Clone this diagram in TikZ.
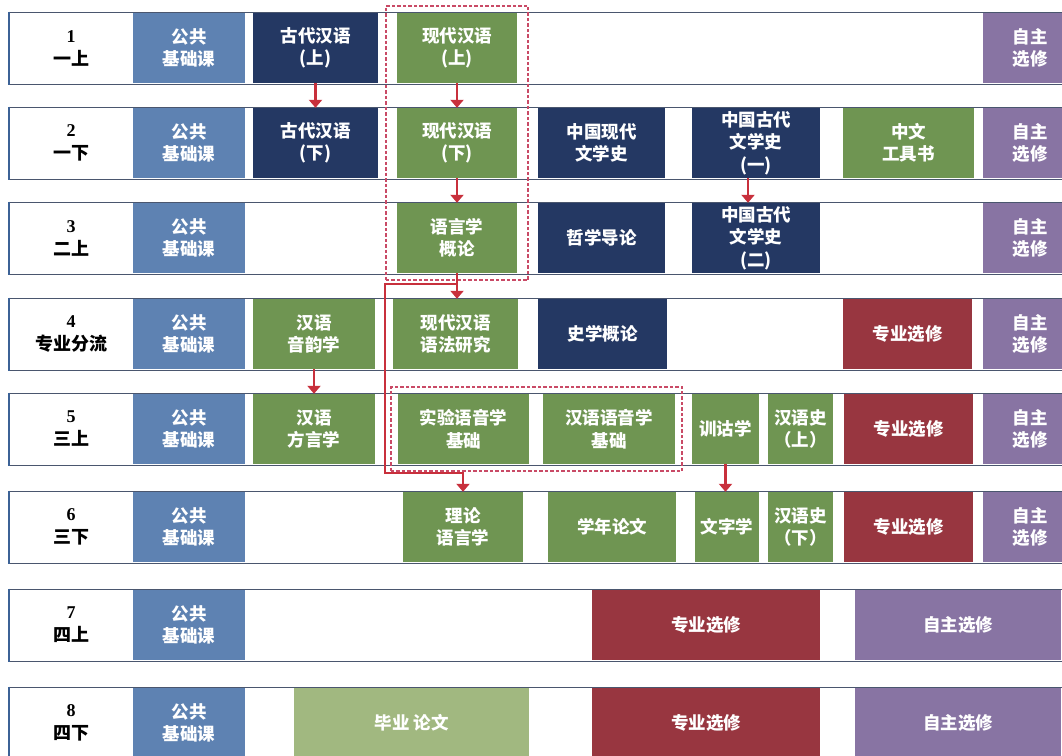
\documentclass[tikz,border=0pt]{standalone}
\usepackage{fontspec}
\setmainfont{Liberation Serif}
\newfontfamily\cjk{Noto Sans CJK SC}
\usetikzlibrary{arrows.meta,fit}
\definecolor{pubblue}{HTML}{5E82B2}
\definecolor{navyc}{HTML}{243863}
\definecolor{greenc}{HTML}{6F9552}
\definecolor{lgreenc}{HTML}{A1B880}
\definecolor{purplec}{HTML}{8874A3}
\definecolor{crimsonc}{HTML}{983640}
\definecolor{barline}{HTML}{4A566E}
\definecolor{edgeblue}{HTML}{3C6296}
\definecolor{arrowred}{HTML}{C8303C}
\definecolor{dashred}{HTML}{C94A66}
\begin{document}
\begin{tikzpicture}[x=1pt,y=-1pt]

      \tikzset{rowbar/.style={draw=barline, line width=1pt, fill=white, minimum height=72pt, minimum width=1070pt, inner sep=0pt, anchor=west},
               term/.style={align=center, inner sep=0pt, font=\cjk\bfseries\fontsize{18}{23}\selectfont},
               course/.style={rectangle, inner sep=0pt, minimum height=70pt, text=white, align=center, font=\cjk\bfseries\fontsize{17.5}{22.5}\selectfont},
               pub/.style={course, fill=pubblue, minimum width=112pt},
               own/.style={course, fill=purplec, minimum width=94pt},
               flow/.style={draw=arrowred, line width=2.2pt, -{Triangle[width=13pt,length=8pt]}},
               dashbox/.style={draw=dashred, line width=2pt, dash pattern=on 3.5pt off 2pt, inner sep=0pt}}
      \useasboundingbox (0,0) rectangle (1062,755);
%% Rows
      	\node[rowbar] (row1) at (9,48) {};
      	\node[rowbar] (row2) at (9,143) {};
      	\node[rowbar] (row3) at (9,238) {};
      	\node[rowbar] (row4) at (9,334) {};
      	\node[rowbar] (row5) at (9,429) {};
      	\node[rowbar] (row6) at (9,527) {};
      	\node[rowbar] (row7) at (9,625) {};
      	\node[rowbar] (row8) at (9,723) {};
      	\foreach \r in {1,...,8}
      		\draw[edgeblue, line width=2.5pt] (row\r.north west) -- (row\r.south west);
%% Terms
      	\node[term] (t1) at (71,48) {{\rmfamily 1}\\一上};
      	\node[term] (t2) at (71,143) {{\rmfamily 2}\\一下};
      	\node[term] (t3) at (71,238) {{\rmfamily 3}\\二上};
      	\node[term] (t4) at (71,334) {{\rmfamily 4}\\专业分流};
      	\node[term] (t5) at (71,429) {{\rmfamily 5}\\三上};
      	\node[term] (t6) at (71,527) {{\rmfamily 6}\\三下};
      	\node[term] (t7) at (71,625) {{\rmfamily 7}\\四上};
      	\node[term] (t8) at (71,723) {{\rmfamily 8}\\四下};
%% Public courses
      	\node[pub] (pub1) at (189,48) {公共\\基础课};
      	\node[pub] (pub2) at (189,143) {公共\\基础课};
      	\node[pub] (pub3) at (189,238) {公共\\基础课};
      	\node[pub] (pub4) at (189,334) {公共\\基础课};
      	\node[pub] (pub5) at (189,429) {公共\\基础课};
      	\node[pub] (pub6) at (189,527) {公共\\基础课};
      	\node[pub] (pub7) at (189,625) {公共\\基础课};
      	\node[pub] (pub8) at (189,723) {公共\\基础课};
%% Courses
      	\node[course, fill=navyc, minimum width=125pt] (gd1) at (315.5,48) {古代汉语\\(上)};
      	\node[course, fill=greenc, minimum width=120pt] (xd1) at (457,48) {现代汉语\\(上)};
      	\node[course, fill=navyc, minimum width=125pt] (gd2) at (315.5,143) {古代汉语\\(下)};
      	\node[course, fill=greenc, minimum width=120pt] (xd2) at (457,143) {现代汉语\\(下)};
      	\node[course, fill=navyc, minimum width=127pt] (xdwx) at (601.5,143) {中国现代\\文学史};
      	\node[course, fill=navyc, minimum width=128pt] (gdwx1) at (756,143) {中国古代\\文学史\\(一)};
      	\node[course, fill=greenc, minimum width=131pt] (gjs) at (908.5,143) {中文\\工具书};
      	\node[course, fill=greenc, minimum width=120pt] (yyx) at (457,238) {语言学\\概论};
      	\node[course, fill=navyc, minimum width=127pt] (zxdl) at (601.5,238) {哲学导论};
      	\node[course, fill=navyc, minimum width=128pt] (gdwx2) at (756,238) {中国古代\\文学史\\(二)};
      	\node[course, fill=greenc, minimum width=122pt] (yyx4) at (314,334) {汉语\\音韵学};
      	\node[course, fill=greenc, minimum width=125pt] (yfyj) at (455.5,334) {现代汉语\\语法研究};
      	\node[course, fill=navyc, minimum width=129pt] (sxgl) at (602.5,334) {史学概论};
      	\node[course, fill=crimsonc, minimum width=129pt] (zy4) at (907.5,334) {专业选修};
      	\node[course, fill=greenc, minimum width=122pt] (fyx) at (314,429) {汉语\\方言学};
      	\node[course, fill=greenc, minimum width=131pt] (syyy) at (463.5,429) {实验语音学\\基础};
      	\node[course, fill=greenc, minimum width=132pt] (hyyy) at (609,429) {汉语语音学\\基础};
      	\node[course, fill=greenc, minimum width=67pt] (xgx) at (725.5,429) {训诂学};
      	\node[course, fill=greenc, minimum width=65pt] (hys1) at (800.5,429) {汉语史\\（上）};
      	\node[course, fill=crimsonc, minimum width=129pt] (zy5) at (908.5,429) {专业选修};
      	\node[course, fill=greenc, minimum width=120pt] (llyy) at (463,527) {理论\\语言学};
      	\node[course, fill=greenc, minimum width=128pt] (xnlw) at (612,527) {学年论文};
      	\node[course, fill=greenc, minimum width=64pt] (wzx) at (727,527) {文字学};
      	\node[course, fill=greenc, minimum width=65pt] (hys2) at (800.5,527) {汉语史\\（下）};
      	\node[course, fill=crimsonc, minimum width=129pt] (zy6) at (908.5,527) {专业选修};
      	\node[course, fill=crimsonc, minimum width=228pt] (zy7) at (706,625) {专业选修};
      	\node[course, fill=lgreenc, minimum width=235pt] (bylw) at (411.5,723) {毕业 论文};
      	\node[course, fill=crimsonc, minimum width=228pt] (zy8) at (706,723) {专业选修};
%% Own electives
      	\node[own] (zz1) at (1030,48) {自主\\选修};
      	\node[own] (zz2) at (1030,143) {自主\\选修};
      	\node[own] (zz3) at (1030,238) {自主\\选修};
      	\node[own] (zz4) at (1030,334) {自主\\选修};
      	\node[own] (zz5) at (1030,429) {自主\\选修};
      	\node[own] (zz6) at (1030,527) {自主\\选修};
      	\node[own, minimum width=206pt] (zz7) at (958,625) {自主选修};
      	\node[own, minimum width=206pt] (zz8) at (958,723) {自主选修};
%% Groups
      	\node[dashbox, fit=(xd1)(yyx), inner xsep=11pt, inner ysep=7pt] (grpa) {};
      	\node[dashbox, fit=(syyy)(hyyy), inner sep=7pt] (grpb) {};
%Arrows
      	\coordinate (bend) at (385,473);
		\path (gd1.south) edge[flow] (gd2.north);
		\path (xd1.south) edge[flow] (xd2.north);
		\path (xd2.south) edge[flow] (yyx.north);
		\path ([xshift=-8pt]gdwx1.south) edge[flow] ([xshift=-8pt]gdwx2.north);
		\path (grpa.south -| yyx.south) edge[flow] (yyx.south |- yfyj.north);
		\path (yyx4.south) edge[flow] (fyx.north);
		\path (xgx.south) edge[flow] (xgx.south |- wzx.north);
		\draw[flow] (yyx.south) -- ++(0,11) -| (bend) -| (llyy.north);

	\end{tikzpicture}
\end{document}
